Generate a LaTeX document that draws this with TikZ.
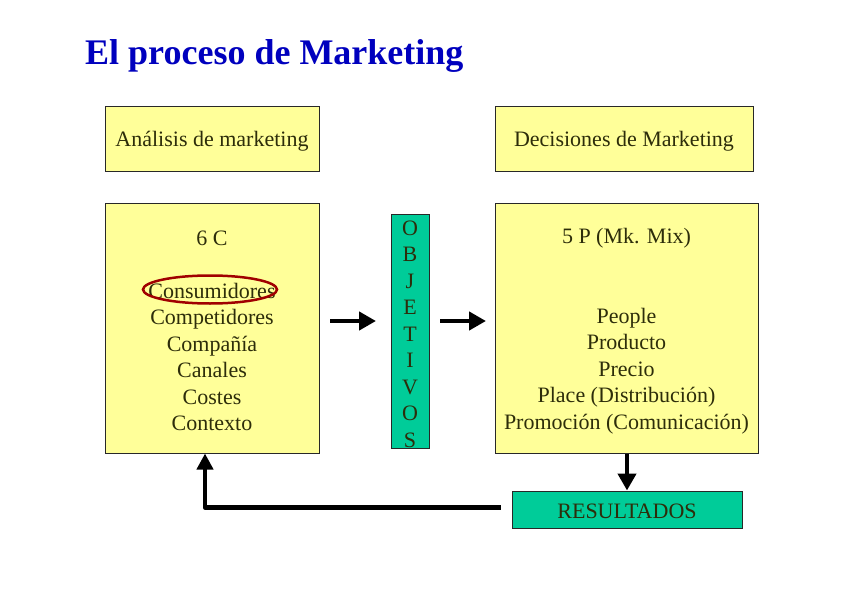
\documentclass[tikz,border=0pt]{standalone}
\usepackage{fontspec}
\setmainfont{Liberation Serif}
\usetikzlibrary{arrows.meta,shapes.geometric,calc}
\definecolor{boxyellow}{RGB}{255,255,153}
\definecolor{boxgreen}{RGB}{0,204,153}
\definecolor{txt}{RGB}{45,45,10}
\definecolor{titleblue}{RGB}{0,0,190}
\definecolor{ringred}{RGB}{160,0,0}
\definecolor{edge}{RGB}{40,40,40}
\begin{document}
\begin{tikzpicture}[x=1pt,y=-1pt,
  ybox/.style={draw=edge,line width=1pt,fill=boxyellow,inner sep=0pt},
  gbox/.style={draw=edge,line width=1pt,fill=boxgreen,inner sep=0pt},
  lbl/.style={text=txt,font=\fontsize{22}{26.5}\selectfont,align=center,inner sep=0pt},
  bigarrow/.style={line width=4.5pt,-{Triangle[length=17pt,width=18pt]}},
  fb/.style={line width=4.5pt,line join=round}]
\useasboundingbox[fill=white] (0,0) rectangle (848,599);
\node[anchor=base west,inner sep=0pt,text=titleblue,font=\fontsize{36}{40}\selectfont\bfseries] (title) at (85,65) {El proceso de Marketing};
% top boxes
\node[ybox,minimum width=214pt,minimum height=64pt] (ana) at (212,139) {};
\node[lbl] (anat) at ($(ana.center)+(0,2)$) {Análisis de marketing};
\node[ybox,minimum width=258pt,minimum height=64pt] (dec) at (624,139) {};
\node[lbl] (dect) at ($(dec.center)+(0,2)$) {Decisiones de Marketing};
% main boxes
\node[ybox,minimum width=214pt,minimum height=250pt] (c6) at (212,328) {};
\node[lbl] (c6t) at (212,331) {6 C\\ \\ Consumidores\\ Competidores\\ Compañía\\ Canales\\ Costes\\ Contexto};
\node[ybox,minimum width=263pt,minimum height=250pt] (p5) at (626.5,328) {};
\node[lbl] (p5t) at (626.5,331) {5 P (Mk. Mix)\\ \\ \\ People\\ Producto\\ Precio\\ Place (Distribución)\\ Promoción (Comunicación)};
% objetivos
\node[gbox,minimum width=38pt,minimum height=234pt] (obj) at (410,331) {};
\node[lbl] (objt) at (410,334) {O\\ B\\ J\\ E\\ T\\ I\\ V\\ O\\ S};
% resultados
\node[gbox,minimum width=230pt,minimum height=37pt] (res) at (627,509.5) {};
\node[lbl] (rest) at ($(res.center)+(0,1.5)$) {RESULTADOS};
% ellipse
\node[draw=ringred,line width=2.5pt,ellipse,minimum width=134pt,minimum height=28pt,inner sep=0pt] (ring) at (210,289.5) {};
% arrows
\coordinate (a1s) at (330,321);
\coordinate (a1e) at (376,321);
\coordinate (a2s) at (440,321);
\coordinate (a2e) at (486,321);
\draw[bigarrow] (a1s) -- (a1e);
\draw[bigarrow] (a2s) -- (a2e);
\draw[bigarrow] (res.north |- p5.south) -- (res.north);
\coordinate (fbs) at ($(res.west)+(-11,-2)$);
\coordinate (fbc) at (fbs -| 205,0);
\draw[fb,-{Triangle[length=16pt,width=16pt]}] (fbs) -- (fbc) -- (c6.south -| fbc);
\end{tikzpicture}
\end{document}
